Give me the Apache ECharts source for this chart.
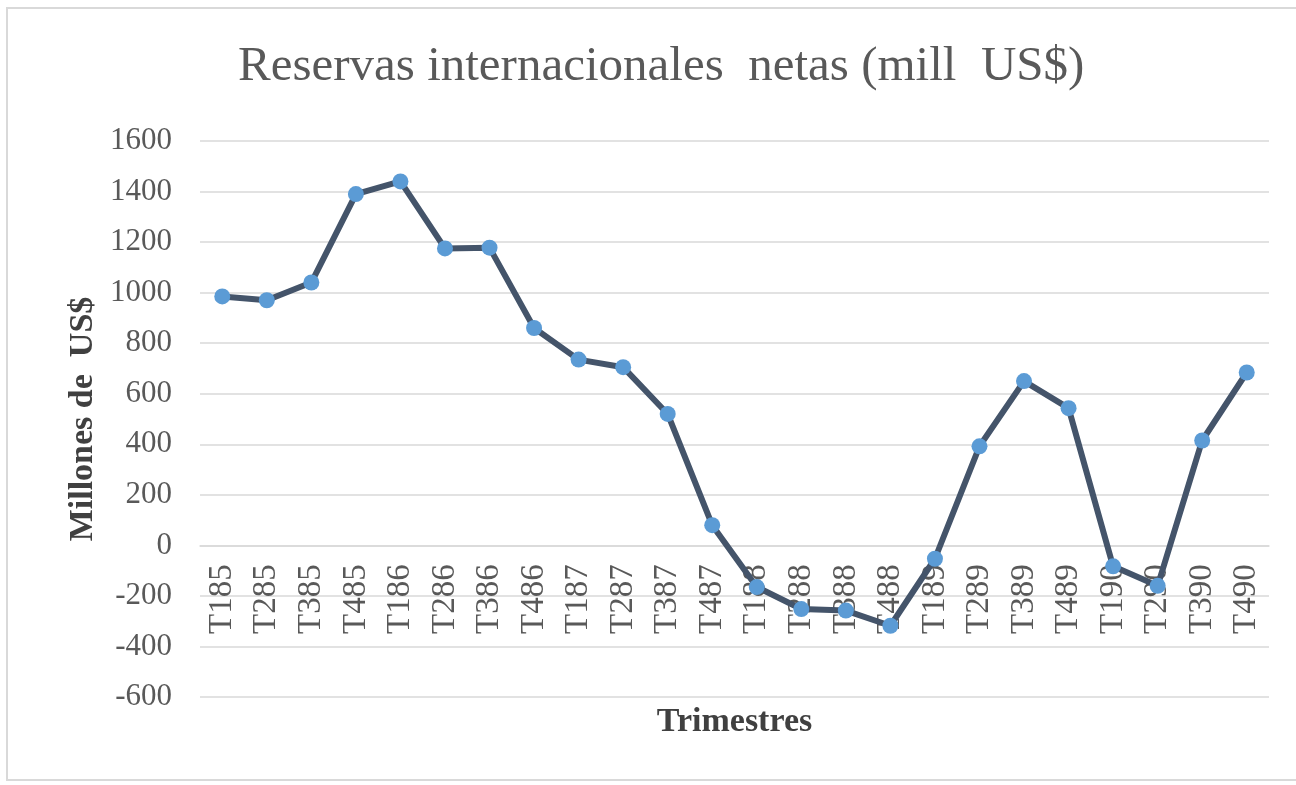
<!DOCTYPE html>
<html>
<head>
<meta charset="utf-8">
<script src="https://cdn.jsdelivr.net/npm/echarts@6/dist/echarts.min.js"></script>
<style>
  html, body { margin: 0; padding: 0; background: #fff; }
  #myChart { width: 1296px; height: 785px; }
</style>
</head>
<body>
<div id="myChart"></div>
<script>
// trimestres (T + trimestre + año)
var categories = ['T185', 'T285', 'T385', 'T485', 'T186', 'T286', 'T386', 'T486',
  'T187', 'T287', 'T387', 'T487', 'T188', 'T288', 'T388', 'T488',
  'T189', 'T289', 'T389', 'T489', 'T190', 'T290', 'T390', 'T490']
// reservas internacionales netas, millones de US$
var reservas = [985, 970, 1040, 1390, 1440, 1175, 1178, 860,
  735, 705, 520, 80, -165, -252, -258, -318,
  -53, 392, 650, 543, -83, -160, 415, 684]
var yMin = -600
var yMax = 1600
var yStep = 200

var serif = '"Liberation Serif", "DejaVu Serif", serif'

var gridTop = 141
var gridBottom = 88
var plotH = 785 - gridTop - gridBottom
// the category labels sit on the zero line, like in the Excel original
var zeroOffset = -(0 - yMin) / (yMax - yMin) * plotH

var myChart = echarts.init(document.getElementById('myChart'))
myChart.setOption({
  animation: false,
  title: {
    text: 'Reservas internacionales  netas (mill  US$)',
    left: 233,
    top: 38,
    textStyle: { fontFamily: serif, fontSize: 49, fontWeight: 'normal', color: '#595959' }
  },
  graphic: [{
    type: 'rect',
    shape: { x: 7, y: 8, width: 1300, height: 772 },
    style: { fill: 'none', stroke: '#d9d9d9', lineWidth: 2 },
    silent: true
  }],
  grid: { left: 200, right: 27, top: gridTop, bottom: gridBottom, outerBoundsMode: 'none', containLabel: false },
  xAxis: {
    type: 'category',
    data: categories,
    boundaryGap: true,
    position: 'bottom',
    offset: zeroOffset,
    name: 'Trimestres',
    nameLocation: 'middle',
    nameGap: 160,
    nameMoveOverlap: false,
    nameTextStyle: { fontFamily: serif, fontSize: 34, fontWeight: 'bold', color: '#404040' },
    axisLine: { onZero: false, lineStyle: { color: '#d9d9d9', width: 1.5 } },
    axisTick: { show: false },
    axisLabel: { rotate: 90, fontFamily: serif, fontSize: 33, color: '#595959', margin: 19, interval: 0 },
    splitLine: { show: false }
  },
  yAxis: {
    type: 'value',
    min: yMin,
    max: yMax,
    interval: yStep,
    name: 'Millones de  US$',
    nameLocation: 'middle',
    nameGap: 100,
    nameMoveOverlap: false,
    nameTextStyle: { fontFamily: serif, fontSize: 34, fontWeight: 'bold', color: '#404040' },
    axisLine: { show: false },
    axisTick: { show: false },
    axisLabel: {
      fontFamily: serif, fontSize: 31, color: '#595959', margin: 28,
      formatter: function (v) { return String(v) }
    },
    splitLine: { lineStyle: { color: '#d9d9d9', width: 1.5 } }
  },
  series: [{
    type: 'line',
    data: reservas,
    symbol: 'circle',
    symbolSize: 16,
    lineStyle: { color: '#44546A', width: 6 },
    itemStyle: { color: '#5B9BD5' },
    z: 3
  }]
})
</script>
</body>
</html>
